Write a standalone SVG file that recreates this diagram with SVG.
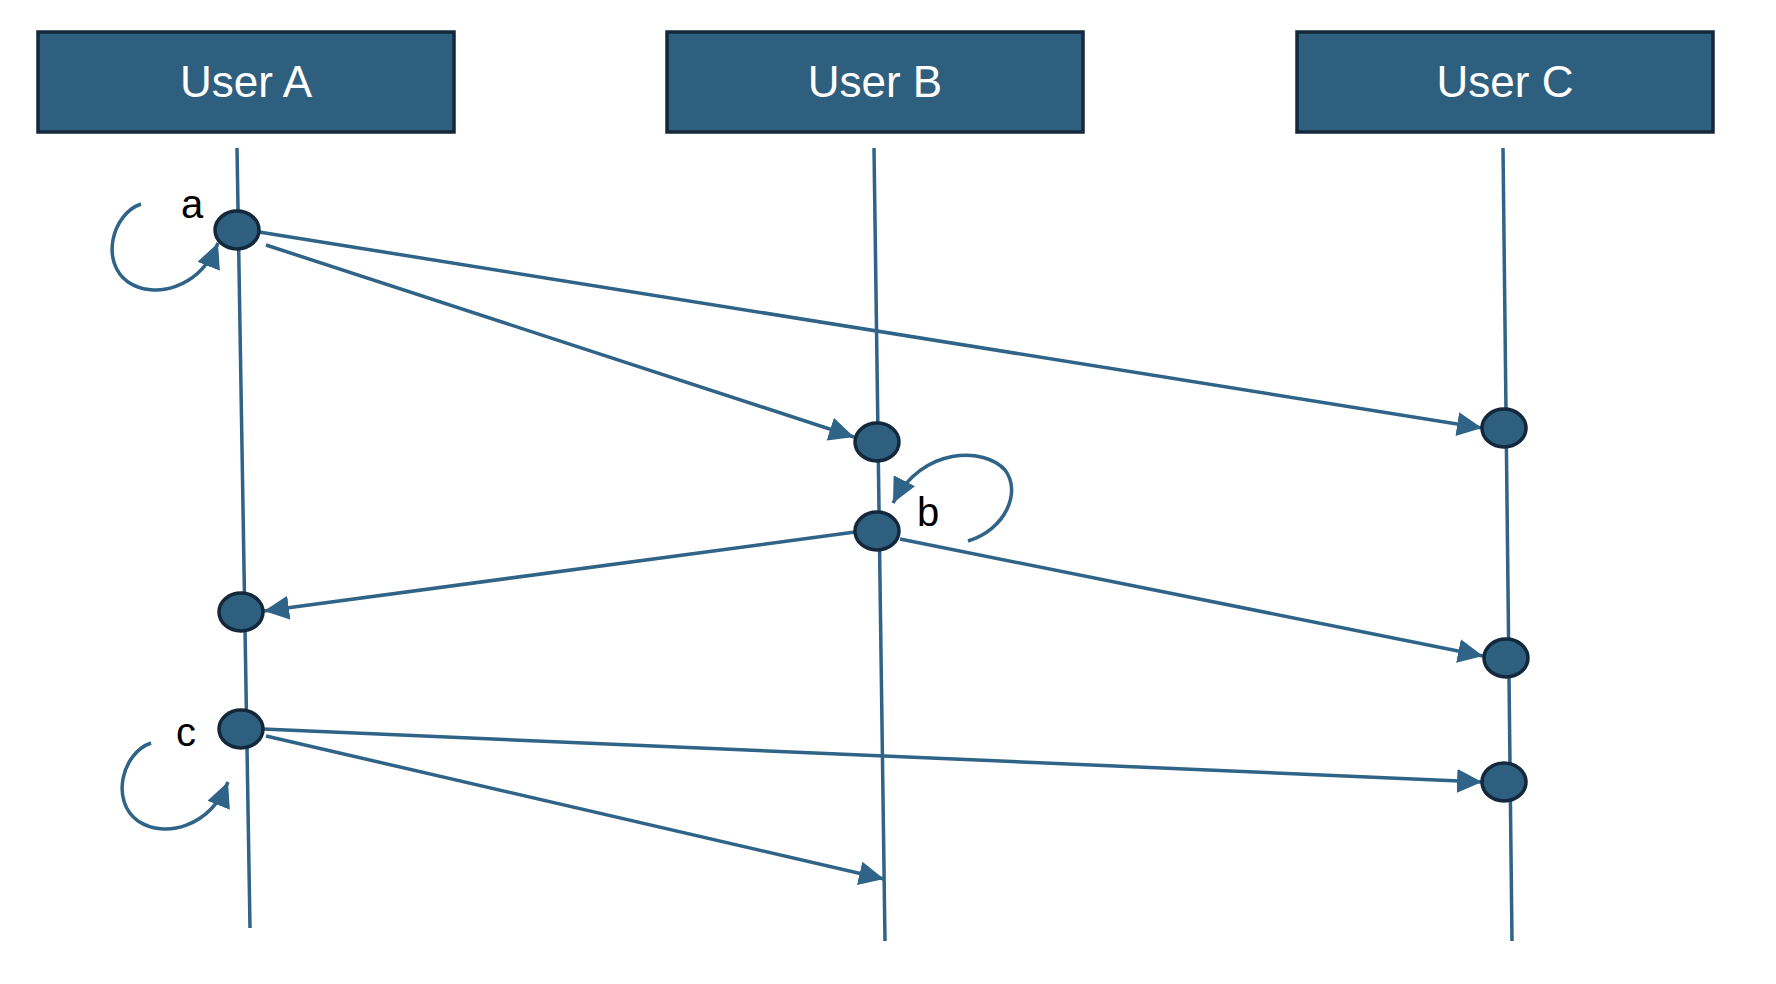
<svg xmlns="http://www.w3.org/2000/svg" width="1776" height="984" viewBox="0 0 1776 984">
<style>
.box{fill:#2e5f7e;stroke:#13283a;stroke-width:3.5}
.title{font-family:"Liberation Sans",Arial,sans-serif;font-size:44px;fill:#ffffff;text-anchor:middle}
.life{stroke:#2f6387;stroke-width:3.5;fill:none}
.msg{stroke:#2f6387;stroke-width:3.5;fill:none;marker-end:url(#ah)}
.evt{fill:#2e5f7e;stroke:#13283a;stroke-width:3.5}
.lbl{font-family:"Liberation Sans",Arial,sans-serif;font-size:40px;fill:#000000}
</style>
<defs>
<marker id="ah" markerUnits="userSpaceOnUse" markerWidth="26" markerHeight="24" refX="25" refY="12" orient="auto" viewBox="0 0 26 24">
<path d="M0,0 L25,12 L0,24 z" fill="#2f6387"/>
</marker>
</defs>
<g id="userA">
<rect class="box" x="38" y="32" width="416" height="100"/>
<text class="title" x="246" y="97">User A</text>
</g>
<g id="userB">
<rect class="box" x="667" y="32" width="416" height="100"/>
<text class="title" x="875" y="97">User B</text>
</g>
<g id="userC">
<rect class="box" x="1297" y="32" width="416" height="100"/>
<text class="title" x="1505" y="97">User C</text>
</g>
<g id="lifelines">
<line class="life" x1="237" y1="148" x2="250" y2="928"/>
<line class="life" x1="874" y1="148" x2="885" y2="941"/>
<line class="life" x1="1503" y1="148" x2="1512" y2="941"/>
</g>
<g id="connectors">
<line class="msg" x1="259" y1="232" x2="1482" y2="428"/>
<line class="msg" x1="266" y1="245" x2="854" y2="437"/>
<line class="msg" x1="855" y1="532" x2="264" y2="611"/>
<line class="msg" x1="900" y1="539" x2="1483" y2="656"/>
<line class="msg" x1="263" y1="729" x2="1482" y2="782"/>
<line class="msg" x1="266" y1="736" x2="884" y2="879"/>
<path class="msg" d="M141,204 C112,214 100,262 128,282 C155,300 200,288 218,243"/>
<path class="msg" d="M968,541 C1005,530 1022,492 1005,470 C985,447 922,446 893,503"/>
<path class="msg" d="M151,743 C122,753 110,801 138,821 C165,839 210,827 228,782"/>
</g>
<g id="eventA1"><ellipse class="evt" cx="237" cy="230" rx="22" ry="19"/><text class="lbl" x="181" y="218">a</text></g>
<g id="eventB1"><ellipse class="evt" cx="877" cy="442" rx="22" ry="19"/></g>
<g id="eventB2"><ellipse class="evt" cx="877" cy="531" rx="22" ry="19"/><text class="lbl" x="917" y="526">b</text></g>
<g id="eventA2"><ellipse class="evt" cx="241" cy="612" rx="22" ry="19"/></g>
<g id="eventA3"><ellipse class="evt" cx="241" cy="729" rx="22" ry="19"/><text class="lbl" x="176" y="746">c</text></g>
<g id="eventC1"><ellipse class="evt" cx="1504" cy="428" rx="22" ry="19"/></g>
<g id="eventC2"><ellipse class="evt" cx="1506" cy="658" rx="22" ry="19"/></g>
<g id="eventC3"><ellipse class="evt" cx="1504" cy="782" rx="22" ry="19"/></g>
</svg>
